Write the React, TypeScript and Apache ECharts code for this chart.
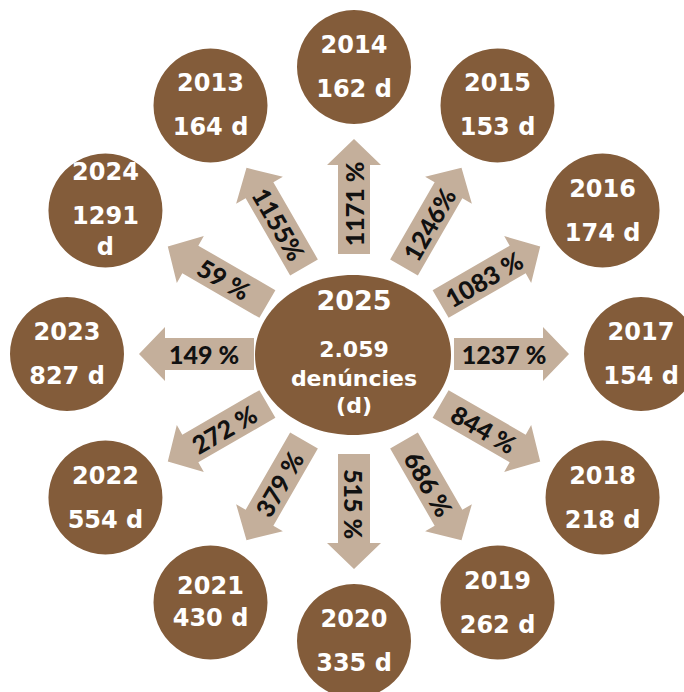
import React, { useEffect, useRef } from 'react';
import * as echarts from 'echarts';

// ---- data ----
const years = ['2013', '2014', '2015', '2016', '2017', '2018', '2019', '2020', '2021', '2022', '2023', '2024'];
const complaints = [164, 162, 153, 174, 154, 218, 262, 335, 430, 554, 827, 1291];
const changeLabels = ['1155%', '1171 %', '1246%', '1083 %', '1237 %', '844 %', '686 %', '515 %', '379 %', '272 %', '149 %', '59 %'];
const currentYear = '2025';
const currentTotal = '2.059';
const currentUnitLines = ['denúncies', '(d)'];

// ---- styles / layout ----
const BROWN = '#835C3A';
const TAN = '#C4AF9B';
const CIRCLE_FONT = '"DejaVu Sans", sans-serif';
const PCT_FONT = 'Lato, "DejaVu Sans", sans-serif';
const STEP = 360 / years.length;
// 2014 sits at the top, years run clockwise, 2013 closes the ring
const angleOf = (i: number) => (((i - 1) * STEP) % 360 + 360) % 360;

const RING = 1;
const ARROW_FROM = 100 / 287;
const ARROW_TO = 215 / 287;
const LABEL_AT = 150 / 287;
const SHAFT_W = 32;
const HEAD_W = 54;
const HEAD_L = 26;
const CIRCLE_R = 57;

function ringItem(params: any, api: any) {
  const i = params.dataIndex;
  const ang = api.value(1);
  const c = api.coord([RING, ang]);
  const p0 = api.coord([ARROW_FROM, ang]);
  const p1 = api.coord([ARROW_TO, ang]);
  const pl = api.coord([LABEL_AT, ang]);
  const dx = p1[0] - p0[0];
  const dy = p1[1] - p0[1];
  const L = Math.hypot(dx, dy);
  const ux = dx / L, uy = dy / L;
  const nx = -uy, ny = ux;
  const hb = [p1[0] - ux * HEAD_L, p1[1] - uy * HEAD_L];
  const pts = [
    [p0[0] + nx * SHAFT_W / 2, p0[1] + ny * SHAFT_W / 2],
    [hb[0] + nx * SHAFT_W / 2, hb[1] + ny * SHAFT_W / 2],
    [hb[0] + nx * HEAD_W / 2, hb[1] + ny * HEAD_W / 2],
    [p1[0], p1[1]],
    [hb[0] - nx * HEAD_W / 2, hb[1] - ny * HEAD_W / 2],
    [hb[0] - nx * SHAFT_W / 2, hb[1] - ny * SHAFT_W / 2],
    [p0[0] - nx * SHAFT_W / 2, p0[1] - ny * SHAFT_W / 2],
  ];
  const deg = ang <= 180 ? 90 - ang : 270 - ang;

  const v = complaints[i];
  const wraps = v >= 1000;
  const valueText = wraps ? `${v}\nd` : `${v} d`;
  let yearDy = -22, valueDy = 22, lh = 30;
  if (wraps) { yearDy = -39; valueDy = 20.5; lh = 31; }
  else if (years[i] === '2021') { yearDy = -17; valueDy = 15; }

  const txt = (text: string, dy: number, extra: any = {}) => ({
    type: 'text',
    x: c[0],
    y: c[1] + dy,
    style: {
      text,
      fill: '#ffffff',
      fontFamily: CIRCLE_FONT,
      fontWeight: 'bold',
      fontSize: 24,
      align: 'center',
      verticalAlign: 'middle',
      ...extra,
    },
  });

  return {
    type: 'group',
    children: [
      { type: 'polygon', shape: { points: pts }, style: { fill: TAN } },
      {
        type: 'text',
        x: pl[0],
        y: pl[1],
        rotation: (deg * Math.PI) / 180,
        style: {
          text: changeLabels[i],
          fill: '#111111',
          fontFamily: PCT_FONT,
          fontWeight: 900,
          fontSize: 25,
          align: 'center',
          verticalAlign: 'middle',
        },
      },
      { type: 'circle', shape: { cx: c[0], cy: c[1], r: CIRCLE_R }, style: { fill: BROWN } },
      txt(years[i], yearDy),
      txt(valueText, valueDy, { lineHeight: lh }),
    ],
  };
}

function centerItem(params: any, api: any) {
  const c = api.coord([0, 0]);
  const t = (text: string, dy: number, size: number) => ({
    type: 'text',
    x: c[0],
    y: c[1] + dy,
    style: {
      text,
      fill: '#ffffff',
      fontFamily: CIRCLE_FONT,
      fontWeight: 'bold',
      fontSize: size,
      align: 'center',
      verticalAlign: 'middle',
    },
  });
  return {
    type: 'group',
    children: [
      { type: 'ellipse', shape: { cx: c[0] - 1, cy: c[1] + 1, rx: 98, ry: 80 }, style: { fill: BROWN } },
      t(currentYear, -54, 27),
      t(currentTotal, -5, 22),
      t(currentUnitLines[0], 24, 22),
      t(currentUnitLines[1], 51, 22),
    ],
  };
}

export default function App() {
  const ref = useRef<HTMLDivElement>(null);
  useEffect(() => {
    if (!ref.current) return;
    const chart = echarts.init(ref.current, null, { renderer: 'svg' });
    chart.setOption({
      animation: false,
      backgroundColor: '#ffffff',
      polar: { center: [354, 354], radius: 287 },
      angleAxis: {
        type: 'value', min: 0, max: 360, startAngle: 90, clockwise: true, show: false,
      },
      radiusAxis: { type: 'value', min: 0, max: 1, show: false },
      series: [
        {
          type: 'custom',
          coordinateSystem: 'polar',
          silent: true,
          renderItem: ringItem,
          data: years.map((y, i) => ({ name: y, value: [RING, angleOf(i)] })),
        },
        {
          type: 'custom',
          coordinateSystem: 'polar',
          silent: true,
          renderItem: centerItem,
          data: [{ name: currentYear, value: [0, 0] }],
          z: 3,
        },
      ],
    });
    return () => chart.dispose();
  }, []);
  return (
    <div
      ref={ref}
      style={{ position: 'fixed', left: 0, top: 0, width: 684, height: 692, background: '#fff' }}
    />
  );
}
